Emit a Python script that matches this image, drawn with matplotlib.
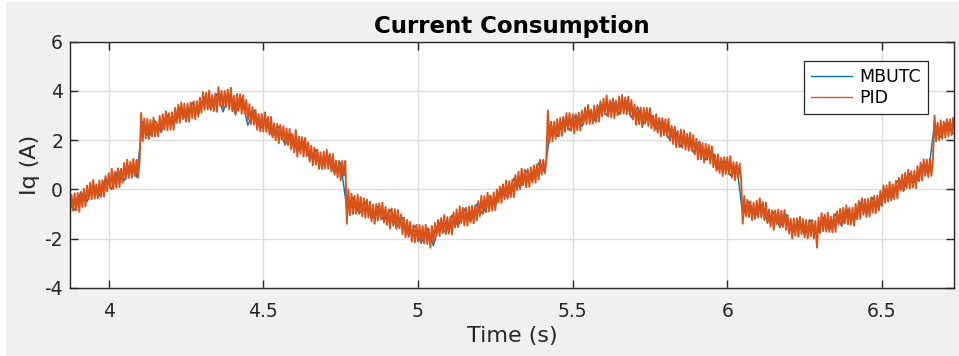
import numpy as np
from matplotlib import pyplot as plt
from matplotlib.patches import Rectangle

plt.rcParams['axes.unicode_minus'] = False

# sampled Iq current, PID run (5 ms step starting at t0_pid), 20 samples per row
t0_pid = 3.87
dt_pid = 0.005
iq_pid = [
    -0.45, -1.04, -0.23, -0.87, -0.17, -0.86, -0.15, -0.91, -0.12, -0.72, 0.02, -0.69, 0.15, -0.41, 0.27, -0.40, 0.38, -0.38, 0.20, -0.37,
    0.36, -0.31, 0.37, -0.30, 0.54, -0.08, 0.65, 0.04, 0.83, 0.02, 0.72, 0.06, 0.85, 0.09, 0.83, 0.27, 1.07, 0.41, 1.20, 0.46,
    1.12, 0.47, 1.23, 0.54, 1.20, 0.47, 1.15, 3.10, 1.95, 2.88, 2.07, 2.86, 2.05, 2.82, 2.15, 2.92, 2.15, 2.72, 2.15, 2.98,
    2.32, 3.05, 2.43, 3.17, 2.40, 3.09, 2.43, 3.13, 2.42, 3.31, 2.70, 3.43, 2.70, 3.53, 2.85, 3.48, 2.75, 3.48, 2.75, 3.53,
    2.90, 3.58, 2.85, 3.58, 2.95, 3.73, 3.12, 3.95, 3.23, 3.92, 3.25, 4.01, 3.22, 3.83, 3.18, 3.89, 3.15, 4.15, 3.40, 4.00,
    3.30, 4.00, 3.35, 4.05, 3.25, 4.13, 3.17, 3.80, 3.03, 3.87, 3.20, 3.86, 3.07, 3.83, 3.08, 3.63, 2.82, 3.46, 2.65, 3.34,
    2.63, 3.22, 2.42, 3.06, 2.36, 3.06, 2.36, 3.12, 2.33, 2.95, 2.22, 2.94, 2.11, 2.68, 2.00, 2.66, 1.87, 2.62, 2.02, 2.57,
    1.82, 2.48, 1.79, 2.45, 1.62, 2.23, 1.50, 2.41, 1.33, 2.14, 1.45, 2.12, 1.33, 2.09, 1.35, 1.91, 1.12, 1.77, 0.98, 1.69,
    1.00, 1.61, 0.83, 1.50, 0.82, 1.53, 0.85, 1.61, 0.83, 1.45, 0.72, 1.43, 0.60, 1.16, 0.48, 1.15, 0.37, 1.15, 0.57, 1.15,
    -1.40, -0.01, -1.05, -0.18, -1.00, -0.27, -1.00, -0.22, -0.98, -0.32, -1.10, -0.37, -1.15, -0.42, -1.15, -0.50, -1.30, -0.62, -1.40, -0.60,
    -1.27, -0.57, -1.23, -0.54, -1.35, -0.72, -1.45, -0.82, -1.60, -0.78, -1.47, -0.81, -1.60, -0.84, -1.58, -1.02, -1.82, -1.16, -1.95, -1.24,
    -1.93, -1.32, -2.12, -1.46, -2.15, -1.44, -2.12, -1.45, -2.13, -1.49, -2.20, -1.44, -2.22, -1.60, -2.37, -1.49, -2.20, -1.37, -1.88, -1.24,
    -1.90, -1.17, -1.78, -1.05, -1.82, -1.13, -1.80, -1.12, -1.83, -0.94, -1.55, -0.82, -1.53, -0.70, -1.37, -0.75, -1.47, -0.75, -1.48, -0.71,
    -1.35, -0.67, -1.38, -0.65, -1.27, -0.48, -1.10, -0.26, -0.97, -0.28, -0.93, -0.14, -0.90, -0.26, -0.87, -0.13, -0.85, -0.01, -0.53, 0.11,
    -0.55, 0.20, -0.40, 0.36, -0.38, 0.33, -0.32, 0.38, -0.32, 0.58, -0.03, 0.71, 0.00, 0.84, 0.17, 0.80, 0.08, 0.82, 0.10, 0.89,
    0.28, 0.97, 0.27, 1.01, 0.40, 1.20, 0.60, 1.20, 0.65, 1.22, 3.20, 1.90, 2.75, 1.95, 2.75, 2.05, 2.85, 2.15, 2.90, 2.17,
    2.95, 2.33, 3.10, 2.43, 3.10, 2.38, 3.05, 2.27, 3.03, 2.40, 3.12, 2.39, 3.20, 2.64, 3.32, 2.65, 3.43, 2.66, 3.24, 2.67,
    3.40, 2.73, 3.42, 2.75, 3.58, 2.96, 3.68, 3.05, 3.81, 2.96, 3.62, 2.93, 3.69, 2.89, 3.60, 3.01, 3.77, 3.07, 3.83, 3.08,
    3.73, 3.05, 3.77, 3.03, 3.63, 2.84, 3.45, 2.62, 3.33, 2.65, 3.32, 2.53, 3.30, 2.68, 3.30, 2.58, 3.30, 2.48, 3.00, 2.38,
    3.05, 2.30, 2.90, 2.15, 2.90, 2.20, 2.85, 2.16, 2.87, 1.97, 2.58, 1.84, 2.55, 1.71, 2.37, 1.72, 2.43, 1.69, 2.40, 1.62,
    2.25, 1.57, 2.30, 1.57, 2.20, 1.42, 2.05, 1.21, 1.92, 1.22, 1.88, 1.09, 1.85, 1.20, 1.80, 1.05, 1.75, 0.90, 1.40, 0.76,
    1.42, 0.67, 1.28, 0.54, 1.30, 0.62, 1.30, 0.62, 1.35, 0.47, 1.10, 0.37, 1.10, 0.45, 1.05, 0.35, -1.40, -0.27, -1.10, -0.43,
    -1.13, -0.49, -1.25, -0.55, -1.20, -0.47, -1.15, -0.37, -1.15, -0.52, -1.25, -0.54, -1.38, -0.82, -1.52, -0.86, -1.65, -0.86, -1.42, -0.83,
    -1.55, -0.87, -1.53, -0.84, -1.65, -1.05, -1.80, -1.20, -2.00, -1.19, -1.88, -1.18, -1.93, -1.12, -1.82, -1.21, -1.95, -1.25, -2.00, -1.25,
    -1.90, -1.25, -2.00, -1.29, -2.37, -1.15, -1.78, -0.97, -1.70, -1.04, -1.72, -0.95, -1.73, -1.12, -1.75, -1.02, -1.73, -0.90, -1.42, -0.80,
    -1.48, -0.75, -1.38, -0.65, -1.43, -0.75, -1.43, -0.75, -1.48, -0.60, -1.22, -0.48, -1.20, -0.36, -1.03, -0.40, -1.12, -0.39, -1.11, -0.33,
    -0.95, -0.27, -0.98, -0.25, -0.86, -0.07, -0.68, 0.16, -0.55, 0.15, -0.50, 0.30, -0.45, 0.20, -0.40, 0.34, -0.37, 0.47, -0.05, 0.59,
    -0.07, 0.67, 0.05, 0.79, 0.03, 0.73, 0.07, 0.76, 0.05, 0.94, 0.33, 1.08, 0.37, 1.21, 0.55, 1.20, 0.50, 1.25, 0.55, 1.25,
    3.00, 1.95, 2.70, 2.00, 2.80, 2.05, 2.75, 2.10, 2.85, 2.15, 2.85, 2.20, 2.90, 2.25, 2.95,
]

# MBUTC run, logged every 20 ms
t0_mbutc = 3.87
dt_mbutc = 0.02
iq_mbutc = [
    -0.55, -0.85, -0.10, -0.50, 0.20, -0.25, 0.45, 0.00, 0.78, 0.35,
    1.02, 0.50, 2.75, 2.10, 2.78, 2.32, 3.02, 2.60, 3.32, 2.85,
    3.52, 3.05, 3.75, 3.27, 3.88, 3.15, 3.85, 3.05, 3.68, 2.60,
    3.22, 2.45, 2.85, 2.15, 2.55, 1.80, 2.25, 1.53, 1.95, 1.22,
    1.62, 0.92, 1.35, 0.65, 1.08, -0.80, -0.32, -1.00, -0.52, -1.20,
    -0.70, -1.30, -0.82, -1.55, -1.15, -1.90, -1.48, -2.20, -1.60, -2.30,
    -1.35, -1.80, -1.05, -1.50, -0.80, -1.30, -0.60, -1.02, -0.28, -0.70,
    0.00, -0.33, 0.45, 0.05, 0.75, 0.33, 1.08, 0.70, 2.60, 2.15,
    2.88, 2.40, 3.05, 2.55, 3.25, 2.80, 3.50, 3.00, 3.62, 3.05,
    3.68, 2.92, 3.35, 2.65, 3.12, 2.45, 2.82, 2.07, 2.48, 1.73,
    2.18, 1.50, 1.95, 1.20, 1.58, 0.82, 1.22, 0.55, 1.02, -1.05,
    -0.50, -1.10, -0.62, -1.33, -0.92, -1.55, -1.02, -1.80, -1.30, -1.85,
    -1.25, -1.82, -1.15, -1.68, -1.00, -1.50, -0.82, -1.30, -0.55, -1.02,
    -0.35, -0.77, 0.00, -0.40, 0.35, -0.07, 0.65, 0.25, 1.00, 0.60,
    2.70, 2.10, 2.78, 2.25,
]

t_pid = t0_pid + dt_pid * np.arange(len(iq_pid))
t_mbutc = t0_mbutc + dt_mbutc * np.arange(len(iq_mbutc))

x_ticks = [4, 4.5, 5, 5.5, 6, 6.5]
x_labels = ["4", "4.5", "5", "5.5", "6", "6.5"]
y_ticks = [-4, -2, 0, 2, 4, 6]

fig = plt.figure(figsize=(9.59, 3.56), dpi=100, facecolor="white")
fig.patches.append(Rectangle((6 / 959, 0), 1, 354 / 356, transform=fig.transFigure,
                             facecolor="#f0f0f0", edgecolor="none", zorder=-10))
ax = fig.add_axes([70 / 959, (356 - 287.7) / 356, 884 / 959, 246 / 356])
ax.set_facecolor("white")

ax.plot(t_mbutc, iq_mbutc, color="#0072BD", lw=1.0, label="MBUTC")
ax.plot(t_pid, iq_pid, color="#D95319", lw=1.4, label="PID")

ax.set_xlim(3.875, 6.733)
ax.set_ylim(-4, 6)
ax.set_xticks(x_ticks)
ax.set_xticklabels(x_labels)
ax.set_yticks(y_ticks)
ax.grid(True, color="#dcdcdc", lw=1.0)
ax.set_axisbelow(True)
ax.tick_params(direction="in", length=6, width=1.0, color="#262626",
               top=True, right=True, labelsize=13.5, labelcolor="#262626")
ax.tick_params(axis="x", pad=10)
ax.tick_params(axis="y", pad=5)
for s in ax.spines.values():
    s.set_color("#262626")
    s.set_linewidth(1.0)

ax.set_title("Current Consumption", fontsize=16.5, fontweight="bold", pad=6)
ax.set_xlabel("Time (s)", fontsize=16, color="#262626", labelpad=4)
ax.set_ylabel("Iq (A)", fontsize=16, color="#262626", labelpad=3)

leg = ax.legend(loc="upper right", bbox_to_anchor=(0.9706, 0.9215), borderaxespad=0,
                fontsize=12.5, fancybox=False, handlelength=2.4, handletextpad=0.4,
                borderpad=0.4, labelspacing=0.2, framealpha=1)
leg.get_frame().set_edgecolor("#262626")
leg.get_frame().set_linewidth(0.9)
for h in leg.get_lines():
    h.set_linewidth(1.0)

plt.savefig("out.png", dpi=100, facecolor=fig.get_facecolor())
